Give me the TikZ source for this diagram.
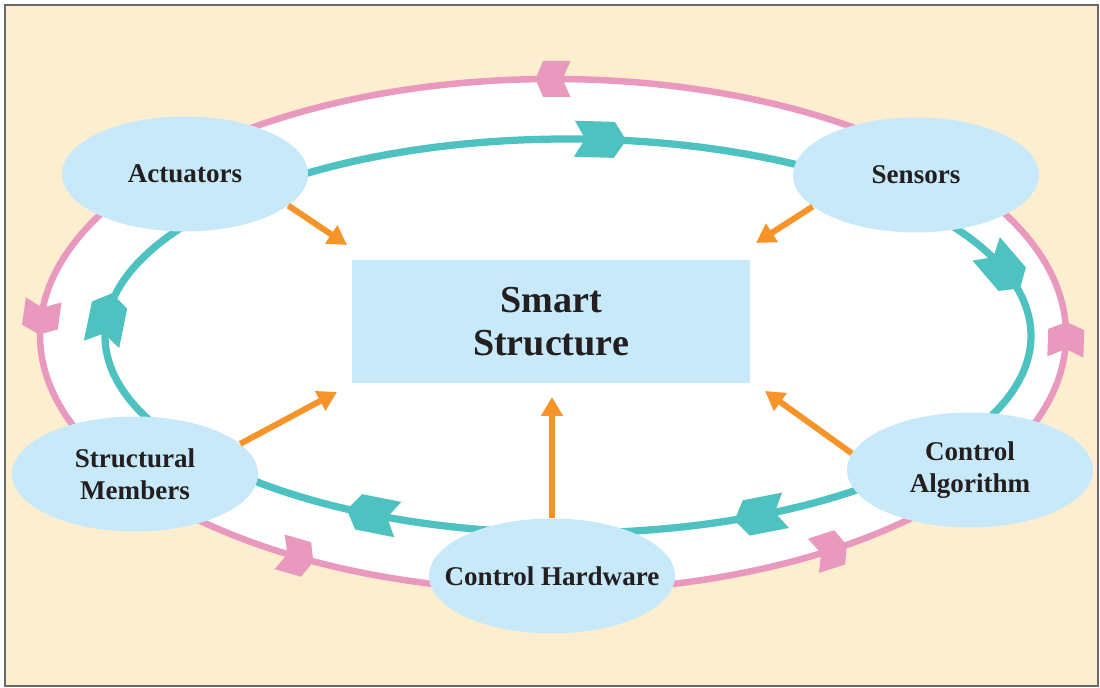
\documentclass[tikz,border=0pt]{standalone}
\usepackage{fontspec}
\setmainfont{Liberation Serif}
\usetikzlibrary{arrows.meta,shapes.geometric}
\definecolor{cream}{RGB}{254,238,208}
\definecolor{bluefill}{RGB}{199,233,250}
\definecolor{pinkc}{RGB}{233,152,190}
\definecolor{tealc}{RGB}{78,194,192}
\definecolor{orangec}{RGB}{247,148,41}
\definecolor{textc}{RGB}{35,31,32}
\definecolor{framec}{RGB}{105,105,105}
% chevron on the outer (pink) loop, running counter-clockwise on screen
\newcommand\pinkchev[1]{%
  \fill[pinkc, shift={({553+513*cos(#1)},{335-256*sin(#1)})},
        rotate={atan2(256*cos(#1),-513*sin(#1))}]
    (-17.5,18) -- (10,18) -- (17.5,0) -- (10,-18) -- (-17.5,-18) -- (-9.5,0) -- cycle;}
% chevron on the inner (teal) loop, running clockwise on screen
\newcommand\tealchev[1]{%
  \fill[tealc, shift={({568+463*cos(#1)},{336-197*sin(#1)})},
        rotate={atan2(-197*cos(#1),463*sin(#1))}]
    (-26,18) -- (14,18) -- (26,0) -- (14,-18) -- (-26,-18) -- (-15,0) -- cycle;}
\begin{document}
\begin{tikzpicture}[x=0.02cm,y=-0.02cm,
  bubble/.style={ellipse, fill=bluefill, inner sep=0pt,
    minimum width=4.92cm, minimum height=2.3cm, align=center, text=textc,
    font=\bfseries\fontsize{15.4}{18.2}\selectfont},
  centerbox/.style={rectangle, fill=bluefill, inner sep=0pt,
    minimum width=7.96cm, minimum height=2.46cm, align=center, text=textc,
    font=\bfseries\fontsize{21.7}{24.5}\selectfont},
  pinkloop/.style={draw=pinkc, fill=white, line width=0.13cm},
  tealloop/.style={draw=tealc, line width=0.145cm},
  feed/.style={draw=orangec, line width=0.12cm,
    -{Triangle[length=0.38cm,width=0.42cm]}}]
\useasboundingbox (0,0) rectangle (1100,688);
\fill[cream] (5,5) rectangle (1098,686);
\draw[framec, line width=0.03cm] (5,5) rectangle (1098,686);
% loops
\path[pinkloop] (553,335) ellipse [x radius=513, y radius=256];
\path[tealloop] (568,336) ellipse [x radius=463, y radius=197];
\pinkchev{90}
\pinkchev{176}
\pinkchev{240}
\pinkchev{302.7}
\pinkchev{359}
\tealchev{86}
\tealchev{20}
\tealchev{294.5}
\tealchev{245}
\tealchev{175}
% nodes
\node[bubble] (act) at (185,174) {Actuators};
\node[bubble] (sen) at (916,175) {Sensors};
\node[bubble] (mem) at (135,474) {Structural\\Members};
\node[bubble] (alg) at (970,470) {Control\\Algorithm};
\node[bubble, inner xsep=-0.45cm] (hw) at (552,576) {Control Hardware};
\node[centerbox] (smart) at (551,321.5) {Smart\\Structure};
% arrow ends
\coordinate (tA) at (347,245);
\coordinate (tS) at (756,243);
\coordinate (tM) at (337,392);
\coordinate (tH) at (552,397);
\coordinate (tG) at (765,391);
\draw[feed] (act.-17) -- (tA);
\draw[feed] (sen.197.6) -- (tS);
\draw[feed] (mem.16) -- (tM);
\draw[feed] (hw.90) -- (tH);
\draw[feed] (alg.172.9) -- (tG);
\end{tikzpicture}
\end{document}
